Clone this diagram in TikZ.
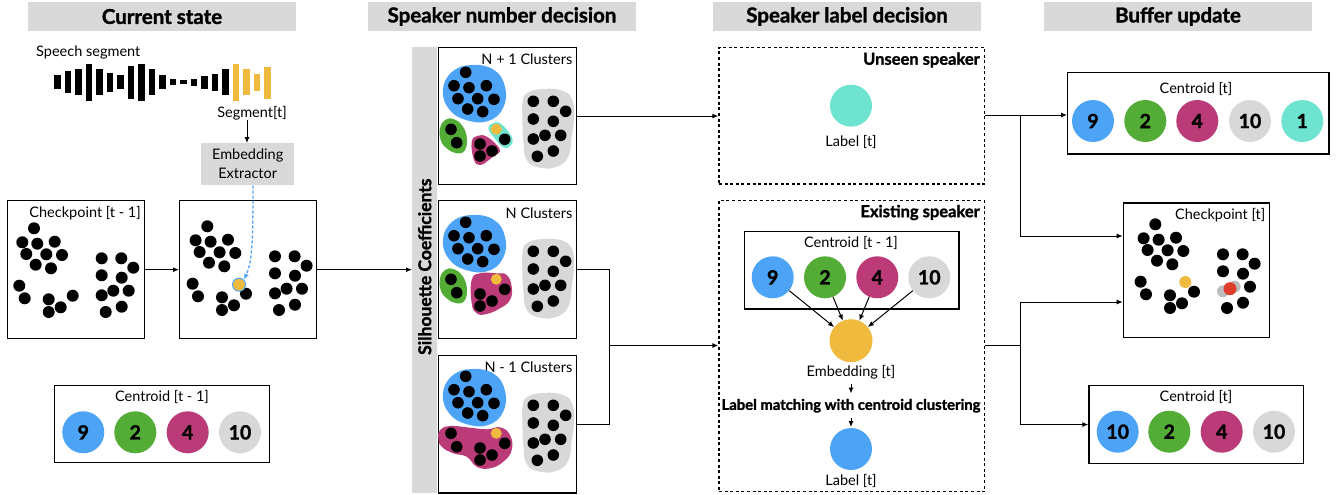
\documentclass[tikz,border=0pt]{standalone}
\usepackage{fontspec}
\setmainfont{Lato}[BoldFeatures={FakeBold=1.5}]
\usetikzlibrary{arrows.meta,calc}
\definecolor{cblue}{HTML}{4DA4F7}
\definecolor{cgreen}{HTML}{52AC36}
\definecolor{cmag}{HTML}{BA3B77}
\definecolor{cgray}{HTML}{D8D8D8}
\definecolor{cteal}{HTML}{6DE3D0}
\definecolor{cyel}{HTML}{F0BA3F}
\definecolor{cred}{HTML}{E03C2C}
\definecolor{hgray}{HTML}{D9D9D9}
\definecolor{fgray}{HTML}{BDBDBD}
\begin{document}
\begin{tikzpicture}[x=1pt,y=-1pt,
  hdr/.style={fill=hgray, minimum width=268pt, minimum height=29pt, inner sep=0pt, font=\fontsize{20.5}{22}\selectfont\bfseries},
  box/.style={draw, line width=1.4pt, inner sep=0pt, anchor=north west},
  dbox/.style={draw, line width=1.3pt, dash pattern=on 3pt off 2.6pt, inner sep=0pt, anchor=north west},
  lbl/.style={font=\fontsize{14.5}{16}\selectfont, inner sep=0pt},
  blbl/.style={font=\fontsize{16.5}{18}\selectfont\bfseries, inner sep=0pt},
  num/.style={circle, minimum size=42pt, inner sep=0pt, font=\fontsize{19.5}{20}\selectfont\bfseries},
  arr/.style={-{Latex[length=6pt,width=5pt]}, line width=1pt},
  ln/.style={line width=1pt},
  blob/.style={smooth cycle, tension=0.75}
]
\useasboundingbox (0,0) rectangle (1338,495);

% headers
\node[hdr] (h1) at (162,16.5) {Current state};
\node[hdr] (h2) at (502,16.5) {Speaker number decision};
\node[hdr] (h3) at (847,16.5) {Speaker label decision};
\node[hdr] (h4) at (1178,16.5) {Buffer update};

% speech segment
\node[lbl, anchor=west] (sp) at (36,52) {Speech segment};
\foreach \xa/\xb/\ya/\yb in {54/61/75/89, 65/71/71/93, 75/82/69/95, 86/92/64/101, 96/103/69/95, 107/113/73/92, 117/124/75/89, 128/134/66/99, 138/145/64/101, 149/155/69/95, 159/166/75/89, 170/176/79/85, 180/187/80/84, 191/197/79/86, 201/208/76/89, 212/218/74/91, 222/229/69/95}
  \fill (\xa,\ya) rectangle (\xb,\yb);
\foreach \xa/\xb/\ya/\yb in {233/239/64/101, 243/250/69/95, 254/260/74/91, 264/271/67/99}
  \fill[cyel] (\xa,\ya) rectangle (\xb,\yb);
\node[lbl] (seg) at (252,113) {Segment[t]};
\node[fill=hgray, minimum width=93pt, minimum height=42pt, inner sep=0pt, anchor=north west, align=center, font=\fontsize{14.5}{19}\selectfont] (ext) at (201,143) {Embedding\\Extractor};
\coordinate (s0) at (247,120);
\draw[arr] (s0) -- (s0 |- ext.north);

% checkpoint boxes
\def\cpA{(34,228.3),(22.3,242.3),(37.3,243.7),(54.7,241.7),(26.3,254),(46.3,254.3),(62,255),(35.7,264.7),(51,268.3),(101.7,258.3),(121.3,258.3),(133.3,267.7),(101.7,275.3),(121.7,277.7),(19.3,285.7),(24.7,298.3),(48.7,299.3),(72.7,295.7),(60.7,307.3),(48.7,312),(105.7,312),(121.7,306.7),(128.7,290.7)}
\def\cpB{(101.7,295.3),(113.3,290.7)}
\node[box, minimum width=137pt, minimum height=138pt] (cp1) at (7,200) {};
\node[lbl, anchor=east] (cp1t) at (141,213) {Checkpoint [t - 1]};
\foreach \p in \cpA {\fill \p circle (6);}
\foreach \p in \cpB {\fill \p circle (6);}
\node[box, minimum width=137pt, minimum height=138pt] (cp2) at (179,200) {};
\begin{scope}[shift={(173.3,-2)}]
\foreach \p in \cpA {\fill \p circle (6);}
\foreach \p in \cpB {\fill \p circle (6);}
\end{scope}
\node[circle, fill=cyel, draw=cblue, line width=1pt, minimum size=13pt, inner sep=0pt] (yd) at (239,284.7) {};
\draw[cblue, line width=1.3pt, dash pattern=on 3pt off 2pt, -{Latex[length=6pt,width=5pt]}] (253,185.5) .. controls (253,245) and (252,262) .. (yd.north east);
\draw[arr] (cp1.east) -- (cp2.west);

% centroid t-1 (left)
\node[box, minimum width=215pt, minimum height=77pt] (cl) at (54,385) {};
\node[lbl] (clt) at (162,397) {Centroid [t - 1]};
\node[num, fill=cblue] (l9) at (83.3,432.3) {9};
\node[num, fill=cgreen] (l2) at (135.3,432.3) {2};
\node[num, fill=cmag] (l4) at (187.7,432.3) {4};
\node[num, fill=cgray] (l10) at (240,432.3) {10};

% silhouette bar
\node[fill=hgray, minimum width=25pt, minimum height=446pt, inner sep=0pt, anchor=north west] (sil) at (412,46.5) {};
\node[rotate=90, font=\fontsize{17.5}{18}\selectfont\bfseries, inner sep=0pt] at ($(sil.center)+(0,-3)$) {Silhouette Coefficients};
\draw[arr] (cp2.east) -- (sil.west |- cp2.east);

% cluster boxes
\def\clA{(465.7,72.3),(454,85.7),(469,87.7),(486.3,85.7),(458,98.7),(477.7,98.7),(494,99.3),(467.7,109),(482.7,111.7),(533.3,101.3),(553.3,101.3),(565.7,111.3),(533.3,119),(553.3,121.3),(533.3,139),(545,135.3),(560.7,135.3),(537.3,156.3),(553.3,151),(451,129.3),(456.7,142.7),(480,144),(492,151),(480,156),(504.7,139.3)}
\newcommand\blueblob{\fill[cblue] plot[blob] coordinates {(443,90) (452,72) (472,65) (494,70) (505,87) (503,108) (488,121) (466,120) (449,109)};}
\newcommand\grayblob{\fill[cgray] plot[blob] coordinates {(526.7,93.3) (540,89.3) (560,90) (571.7,98.3) (574,116.7) (571.7,136.7) (568.3,156.7) (556.7,166.7) (540,167.7) (526.7,160) (523.3,140) (522.3,116.7) (522.7,101.7)};}
\newcommand\greenblob{\fill[cgreen] plot[blob] coordinates {(440,128.3) (445,120) (453.3,119) (461.7,125) (466.7,136.7) (465,150) (456.7,153.3) (446.7,148.3) (440.7,140)};}
\newcommand\cldots{\foreach \p in \clA {\fill \p circle (5.8);}\fill[cyel] (496.3,129.3) circle (5.5);}

\node[box, minimum width=138pt, minimum height=137.3pt] (nb1) at (437.7,46.7) {};
\node[lbl, anchor=east] at (572.5,59) {N + 1 Clusters};
\blueblob \grayblob \greenblob
\fill[cmag] plot[blob] coordinates {(471.7,141.7) (478.3,135.7) (486.7,136.7) (496.7,145) (500,151.7) (495,155) (486.7,161.7) (480,165) (474,160)};
\fill[cteal] plot[blob] coordinates {(488.3,128.3) (492.7,123.3) (500,123.3) (508.3,131.7) (512.7,140) (510,146) (503.3,147.3) (493.3,136.7)};
\cldots

\node[box, minimum width=138pt, minimum height=137.7pt] (nb2) at (437.7,200) {};
\node[lbl, anchor=east] at (572.5,213) {N Clusters};
\begin{scope}[shift={(0,150)}]
\blueblob \grayblob \greenblob
\fill[cmag] plot[blob] coordinates {(471.7,130) (480,123.3) (496.7,123.3) (506.7,125) (511.7,136.7) (510,150) (500,158.3) (486.7,164) (476.7,163.3) (471.7,153.3)};
\cldots
\end{scope}

\node[box, minimum width=138pt, minimum height=137.6pt] (nb3) at (437.7,354.7) {};
\node[lbl, anchor=east] at (572.5,367) {N - 1 Clusters};
\begin{scope}[shift={(0,304)}]
\blueblob \grayblob
\fill[cmag] plot[blob] coordinates {(440,126) (450,122) (466.7,123.3) (486.7,125.3) (500,123.3) (510,131) (511.7,146) (503.3,157.7) (490,164.3) (476.7,162.7) (466.7,152.7) (453.3,149.3) (441.7,142.7) (438.3,134.3)};
\cldots
\end{scope}

% unseen speaker
\node[dbox, minimum width=265.7pt, minimum height=136.6pt] (un) at (718.3,46.7) {};
\node[blbl, anchor=east] at (980,60) {Unseen speaker};
\node[num, fill=cteal] (lt1) at (851,105.7) {};
\node[lbl] at (851,141.7) {Label [t]};
\draw[arr] (nb1.east) -- (un.west |- nb1.east);

% existing speaker
\node[dbox, minimum width=265.7pt, minimum height=291pt] (ex) at (718.3,200) {};
\node[blbl, anchor=east] at (980,212.5) {Existing speaker};
\node[box, minimum width=214.3pt, minimum height=77.3pt] (ec) at (744,231) {};
\node[lbl] at (851,243.3) {Centroid [t - 1]};
\node[num, fill=cblue] (e9) at (772.7,277.3) {9};
\node[num, fill=cgreen] (e2) at (825,277.3) {2};
\node[num, fill=cmag] (e4) at (877.3,277.3) {4};
\node[num, fill=cgray] (e10) at (929.3,277.3) {10};
\node[num, fill=cyel, minimum size=43pt] (emb) at (851,340.7) {};
\foreach \n in {e9,e2,e4,e10} \draw[arr] (\n) -- (emb);
\node[lbl] (embt) at (851,372.3) {Embedding [t]};
\node[font=\fontsize{14.8}{16}\selectfont\bfseries, inner sep=0pt] (lm) at (851,405.7) {Label matching with centroid clustering};
\node[num, fill=cblue] (lt2) at (851,449) {};
\node[lbl] at (851,481) {Label [t]};
\coordinate (a1) at (851,384);
\coordinate (a1e) at (851,393.5);
\coordinate (a2) at (851,417.5);
\coordinate (a2e) at (851,427);
\draw[arr] (a1) -- (a1e);
\draw[arr] (a2) -- (a2e);

% junction to existing speaker
\coordinate (j1) at (609,345.5);
\draw[ln] (nb2.east) -| (j1);
\draw[ln] (nb3.east) -| (j1);
\draw[arr] (j1) -- (ex.west |- j1);

% buffer update
\node[box, minimum width=261.3pt, minimum height=81.3pt] (ct) at (1067,72) {};
\node[lbl] at (1196,89) {Centroid [t]};
\node[num, fill=cblue] (t9) at (1093,121) {9};
\node[num, fill=cgreen] (t2) at (1145.3,121) {2};
\node[num, fill=cmag] (t4) at (1197.3,121) {4};
\node[num, fill=cgray] (t10) at (1250,121) {10};
\node[num, fill=cteal] (t1) at (1302.3,121) {1};

\node[box, minimum width=146.3pt, minimum height=134.4pt] (cpt) at (1122.7,202.3) {};
\node[lbl, anchor=east] at (1265.5,215) {Checkpoint [t]};
\begin{scope}[shift={(1121.3,-4)}]
\foreach \p in \cpA {\fill \p circle (6);}
\foreach \p in \cpB {\fill[fgray] \p circle (6);}
\end{scope}
\fill[cred] (1230,288.7) circle (6.5);
\fill[cyel] (1185.3,282) circle (6);

\node[box, minimum width=214.4pt, minimum height=77.7pt] (cb) at (1088.3,385) {};
\node[lbl] at (1196,397.3) {Centroid [t]};
\node[num, fill=cblue] (b10a) at (1117.7,431.7) {10};
\node[num, fill=cgreen] (b2) at (1169.3,431.7) {2};
\node[num, fill=cmag] (b4) at (1221.7,431.7) {4};
\node[num, fill=cgray] (b10) at (1274,431.7) {10};

\coordinate (j2) at (1020,115);
\coordinate (ya) at (1020,236);
\coordinate (j3) at (1020,345.5);
\coordinate (yb) at (1020,302);
\draw[arr] (un.east |- j2) -- (ct.west |- j2);
\draw[arr] (j2) -- (ya) -- (cpt.west |- ya);
\draw[ln] (ex.east |- j3) -- (j3);
\draw[arr] (j3) -- (yb) -- (cpt.west |- yb);
\draw[arr] (j3) |- (cb.west);
\end{tikzpicture}
\end{document}
